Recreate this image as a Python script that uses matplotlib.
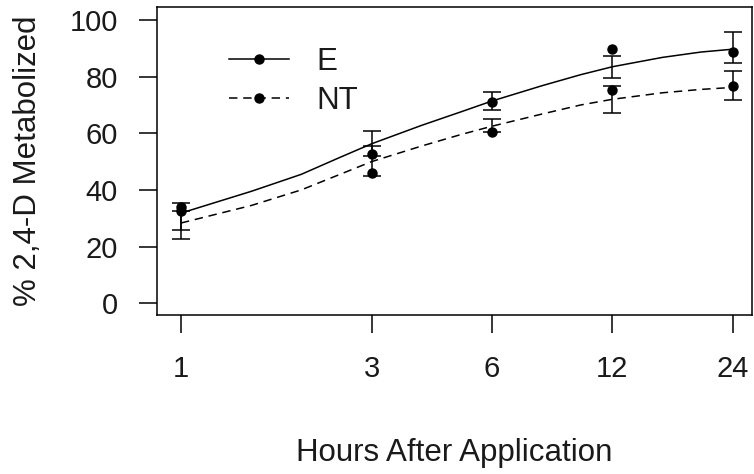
import matplotlib
matplotlib.use("Agg")
import matplotlib.pyplot as plt
from matplotlib.lines import Line2D

# observed means
hours = [1, 3, 6, 12, 24]
e_mean = [34.0, 52.6, 71.0, 89.6, 88.6]
nt_mean = [32.5, 46.0, 60.5, 75.3, 76.7]

# fitted curves
fit_hours = [1, 1.5, 2, 2.5, 3, 4, 5, 6, 8, 10, 12, 16, 20, 24]
e_fit = [31.8, 39.5, 45.5, 51.5, 56.3, 62.8, 67.5, 71.4, 76.8, 80.7, 83.5, 86.8, 88.7, 89.7]
nt_fit = [28.3, 34.5, 40.0, 45.5, 50.0, 55.5, 59.5, 62.5, 66.8, 70.0, 72.0, 74.3, 75.5, 76.2]

# error bars, centred on the fitted values
e_bar_mid = [30.6, 56.3, 71.4, 83.5, 90.3]
e_bar_err = [4.8, 4.5, 3.3, 3.9, 5.3]
nt_bar_mid = [27.6, 50.2, 62.7, 71.9, 76.9]
nt_bar_err = [5.0, 5.2, 2.2, 4.7, 5.2]

plt.rcParams["font.family"] = ["Liberation Sans", "DejaVu Sans"]
TICK_FS = 21
LAB_FS = 22.5
INK = "#1a1a1a"

fig = plt.figure(figsize=(7.54, 4.74), dpi=100)
ax = fig.add_axes([0.2082, 0.3354, 0.789, 0.6498])
ax.set_xscale("log")

dash = (0, (5.5, 3.8))
ax.plot(fit_hours, e_fit, color="black", lw=1.1)
ax.plot(fit_hours, nt_fit, color="black", lw=1.1, linestyle=dash)
ax.errorbar(hours, e_bar_mid, yerr=e_bar_err, fmt="none", ecolor="black",
            elinewidth=1.1, capsize=6.5, capthick=1.1)
ax.errorbar(hours, nt_bar_mid, yerr=nt_bar_err, fmt="none", ecolor="black",
            elinewidth=1.1, capsize=6.5, capthick=1.1)
ax.plot(hours, e_mean, "o", color="black", ms=6.5)
ax.plot(hours, nt_mean, "o", color="black", ms=6.5)

ax.set_xlim(0.871, 26.8)
ax.set_ylim(-4.2, 104.6)
ax.set_xticks(hours)
ax.set_xticklabels([str(h) for h in hours])
ax.minorticks_off()
ax.set_yticks([0, 20, 40, 60, 80, 100])
ax.tick_params(axis="both", labelsize=TICK_FS, labelcolor=INK, length=13,
               width=1.1, color="black")
ax.tick_params(axis="y", pad=15)
ax.tick_params(axis="x", pad=15.5)
for s in ax.spines.values():
    s.set_linewidth(1.1)

ax.set_xlabel("Hours After Application", fontsize=LAB_FS, color=INK, labelpad=40)
ax.set_ylabel("% 2,4-D Metabolized", fontsize=LAB_FS, color=INK, labelpad=19.5)

handles = [Line2D([], [], color="black", lw=1.1, marker="o", ms=6.5),
           Line2D([], [], color="black", lw=1.1, marker="o", ms=6.5, linestyle=dash)]
leg = ax.legend(handles, ["E", "NT"], loc="upper left", bbox_to_anchor=(0.1218, 0.869),
                frameon=False, fontsize=LAB_FS, handlelength=1.9, handletextpad=0.88,
                labelspacing=0.27, borderpad=0, borderaxespad=0)
for t in leg.get_texts():
    t.set_color(INK)

fig.savefig("out.png", dpi=100)
